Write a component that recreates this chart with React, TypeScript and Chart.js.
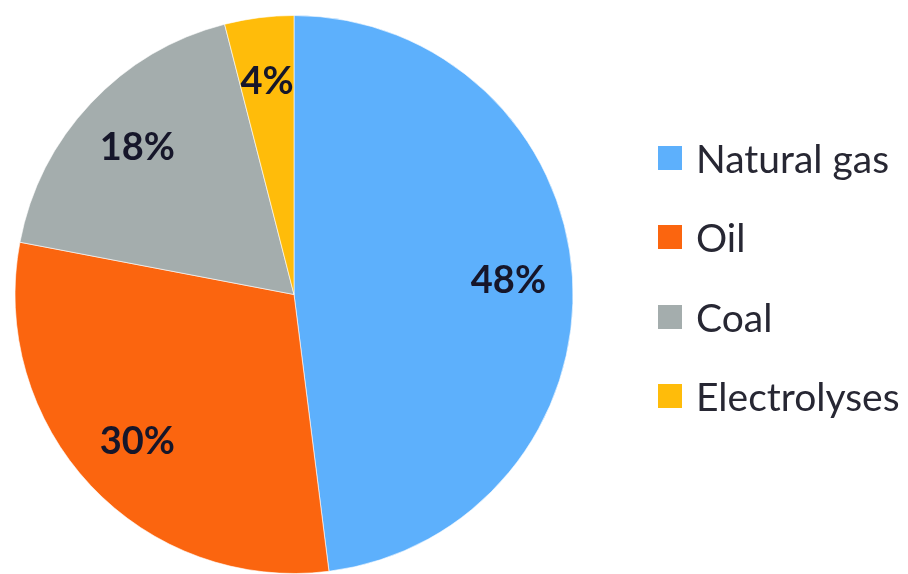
import React, { useEffect, useRef } from "react";
import { Chart, registerables } from "chart.js";

Chart.register(...registerables);

const categories = ["Natural gas", "Oil", "Coal", "Electrolyses"];
const shares = [48, 30, 18, 4];
const colors = ["#5DB0FC", "#FB650F", "#A4ADAD", "#FFBC0A"];

const labelPlugin = {
  id: "sliceLabels",
  afterDatasetsDraw(chart: any) {
    const ctx = chart.ctx;
    const meta = chart.getDatasetMeta(0);
    ctx.save();
    ctx.font = "bold 38px Lato, 'Open Sans', sans-serif";
    ctx.fillStyle = "#16162a";
    ctx.textAlign = "center";
    ctx.textBaseline = "middle";
    meta.data.forEach((arc: any, i: number) => {
      const p = arc.getProps(["x", "y", "startAngle", "endAngle", "outerRadius"], true);
      const mid = (p.startAngle + p.endAngle) / 2;
      const r = p.outerRadius * 0.77;
      ctx.fillText(shares[i] + "%", p.x + Math.cos(mid) * r, p.y + Math.sin(mid) * r);
    });
    ctx.restore();
  },
};

export default function App() {
  const ref = useRef<HTMLCanvasElement | null>(null);
  useEffect(() => {
    document.body.style.margin = "0";
    const chart = new Chart(ref.current!, {
      type: "pie",
      data: {
        labels: categories,
        datasets: [
          {
            data: shares,
            backgroundColor: colors,
            borderColor: "rgba(255,255,255,0.6)",
            borderWidth: 1,
          },
        ],
      },
      options: {
        animation: false,
        responsive: false,
        maintainAspectRatio: false,
        layout: { padding: { top: 15, bottom: 0, left: 14, right: 334 } },
        plugins: {
          legend: { display: false },
          tooltip: { enabled: false },
        },
      },
      plugins: [labelPlugin],
    });
    return () => chart.destroy();
  }, []);

  return (
    <div style={{ position: "relative", width: 908, height: 574, background: "#fff" }}>
      <canvas ref={ref} width={908} height={574} style={{ position: "absolute", left: 0, top: 0 }} />
      <div
        style={{
          position: "absolute",
          left: 658,
          top: 118,
          fontFamily: "Lato, 'Open Sans', sans-serif",
          fontSize: 39,
          color: "#272733",
          whiteSpace: "nowrap",
        }}
      >
        {categories.map((c, i) => (
          <div key={c} style={{ display: "flex", alignItems: "center", height: 79.5 }}>
            <span
              style={{ width: 24, height: 24, background: colors[i], display: "inline-block", marginRight: 14, flex: "none" }}
            />
            <span>{c}</span>
          </div>
        ))}
      </div>
    </div>
  );
}
